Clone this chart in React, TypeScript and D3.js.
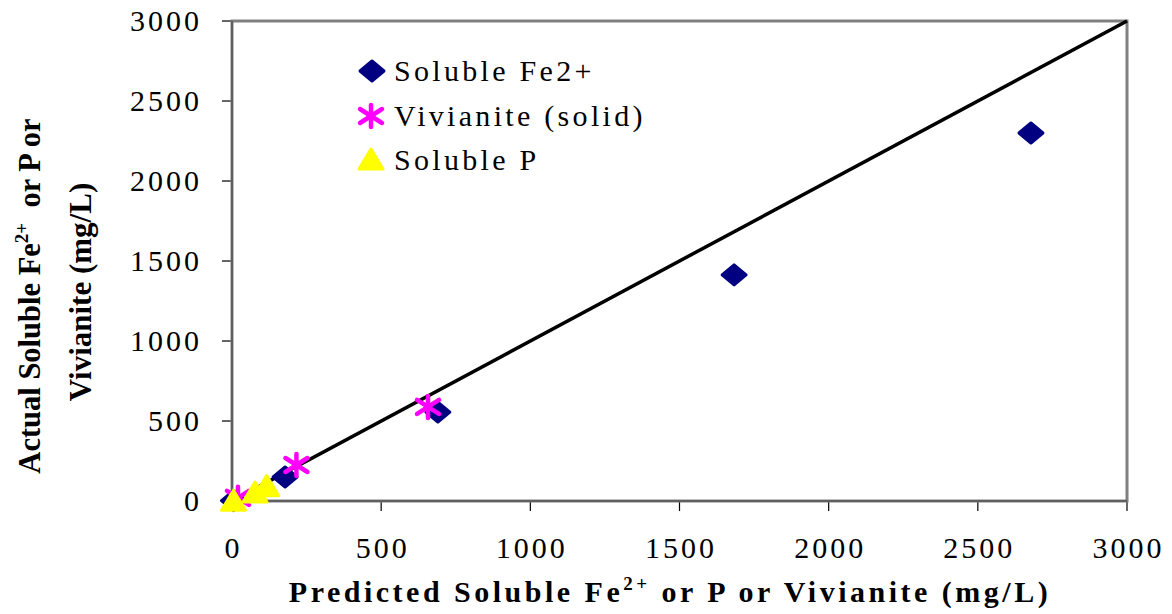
import React from "react";
import * as d3 from "d3";

const feX = [5, 178, 690, 1683, 2678];
const feY = [2, 150, 556, 1413, 2300];
const vivX = [20, 216, 657];
const vivY = [20, 225, 588];
const pX = [5, 77, 116];
const pY = [5, 56, 96];
const ticks = [0, 500, 1000, 1500, 2000, 2500, 3000];
const legendLabels = ["Soluble Fe2+", "Vivianite (solid)", "Soluble P"];

const W = 1172, H = 614;
const L = 232, R = 1127, T = 21, B = 501;
const FONT = "Liberation Serif, Times New Roman, DejaVu Serif, serif";

function Diamond({ x, y }: { x: number; y: number }) {
  const w = 12, h = 10;
  return (
    <polygon
      points={`${x - w},${y} ${x},${y - h} ${x + w},${y} ${x},${y + h}`}
      fill="#000080" stroke="#000080" strokeWidth={3} strokeLinejoin="round" />
  );
}
function Star({ x, y }: { x: number; y: number }) {
  const a = 11, dx = 11, dy = 7;
  return (
    <g stroke="#FF00FF" strokeWidth={4.5} strokeLinecap="round">
      <line x1={x} y1={y - a} x2={x} y2={y + a} />
      <line x1={x - dx} y1={y - dy} x2={x + dx} y2={y + dy} />
      <line x1={x - dx} y1={y + dy} x2={x + dx} y2={y - dy} />
    </g>
  );
}
function Tri({ x, y }: { x: number; y: number }) {
  const w = 12, h = 10;
  return (
    <polygon
      points={`${x - w},${y + h} ${x},${y - h} ${x + w},${y + h}`}
      fill="#FFFF00" stroke="#FFFF00" strokeWidth={3} strokeLinejoin="round" />
  );
}

export default function App() {
  const x = d3.scaleLinear().domain([0, 3000]).range([L, R]);
  const y = d3.scaleLinear().domain([0, 3000]).range([B, T]);
  return (
    <svg width={W} height={H} style={{ position: "absolute", left: 0, top: 0, background: "#fff", fontFamily: FONT }}>
      <rect x={0} y={0} width={W} height={H} fill="#fff" />
      {ticks.map((t) => (
        <g key={"y" + t}>
          <line x1={L - 10} x2={L} y1={y(t)} y2={y(t)} stroke="#000" strokeWidth={1.2} />
          <text x={202} y={y(t) + 10} textAnchor="end" fontSize={30} letterSpacing={3}>{t}</text>
        </g>
      ))}
      {ticks.map((t) => (
        <g key={"x" + t}>
          <line x1={x(t)} x2={x(t)} y1={B} y2={B + 10} stroke="#000" strokeWidth={1.2} />
          <text x={x(t) + 1.5} y={558} textAnchor="middle" fontSize={30} letterSpacing={3}>{t}</text>
        </g>
      ))}
      <rect x={L} y={T} width={R - L} height={B - T} fill="none" stroke="#808080" strokeWidth={3} />
      <line x1={L} y1={T} x2={L} y2={B} stroke="#555" strokeWidth={1.5} />
      <line x1={L} y1={B} x2={R} y2={B} stroke="#555" strokeWidth={1.5} />
      <line x1={x(0)} y1={y(0)} x2={x(3000)} y2={y(3000)} stroke="#000" strokeWidth={3.5} />
      {feX.map((v, i) => <Diamond key={"f" + i} x={x(v)} y={y(feY[i])} />)}
      {vivX.map((v, i) => <Star key={"v" + i} x={x(v)} y={y(vivY[i])} />)}
      {pX.map((v, i) => <Tri key={"p" + i} x={x(v)} y={y(pY[i])} />)}
      <Diamond x={372} y={71} />
      <Star x={371} y={116} />
      <Tri x={371} y={159} />
      {legendLabels.map((s, i) => (
        <text key={s} x={394} y={81 + i * 44.5} fontSize={30} letterSpacing={3.3}>{s}</text>
      ))}
      <text x={670} y={602} textAnchor="middle" fontSize={30} fontWeight="bold" letterSpacing={3.5}>
        Predicted Soluble Fe<tspan dy={-12} fontSize={19}>2+</tspan><tspan dy={12}> or P or Vivianite (mg/L)</tspan>
      </text>
      <g transform="translate(40,296) rotate(-90)">
        <text x={0} y={0} textAnchor="middle" fontSize={30.5} fontWeight="bold">
          Actual Soluble Fe<tspan dy={-12} fontSize={19}>2+</tspan><tspan dy={12}>{"\u00a0 or P or"}</tspan>
        </text>
      </g>
      <g transform="translate(91,292) rotate(-90)">
        <text x={0} y={0} textAnchor="middle" fontSize={31} fontWeight="bold">Vivianite (mg/L)</text>
      </g>
    </svg>
  );
}
